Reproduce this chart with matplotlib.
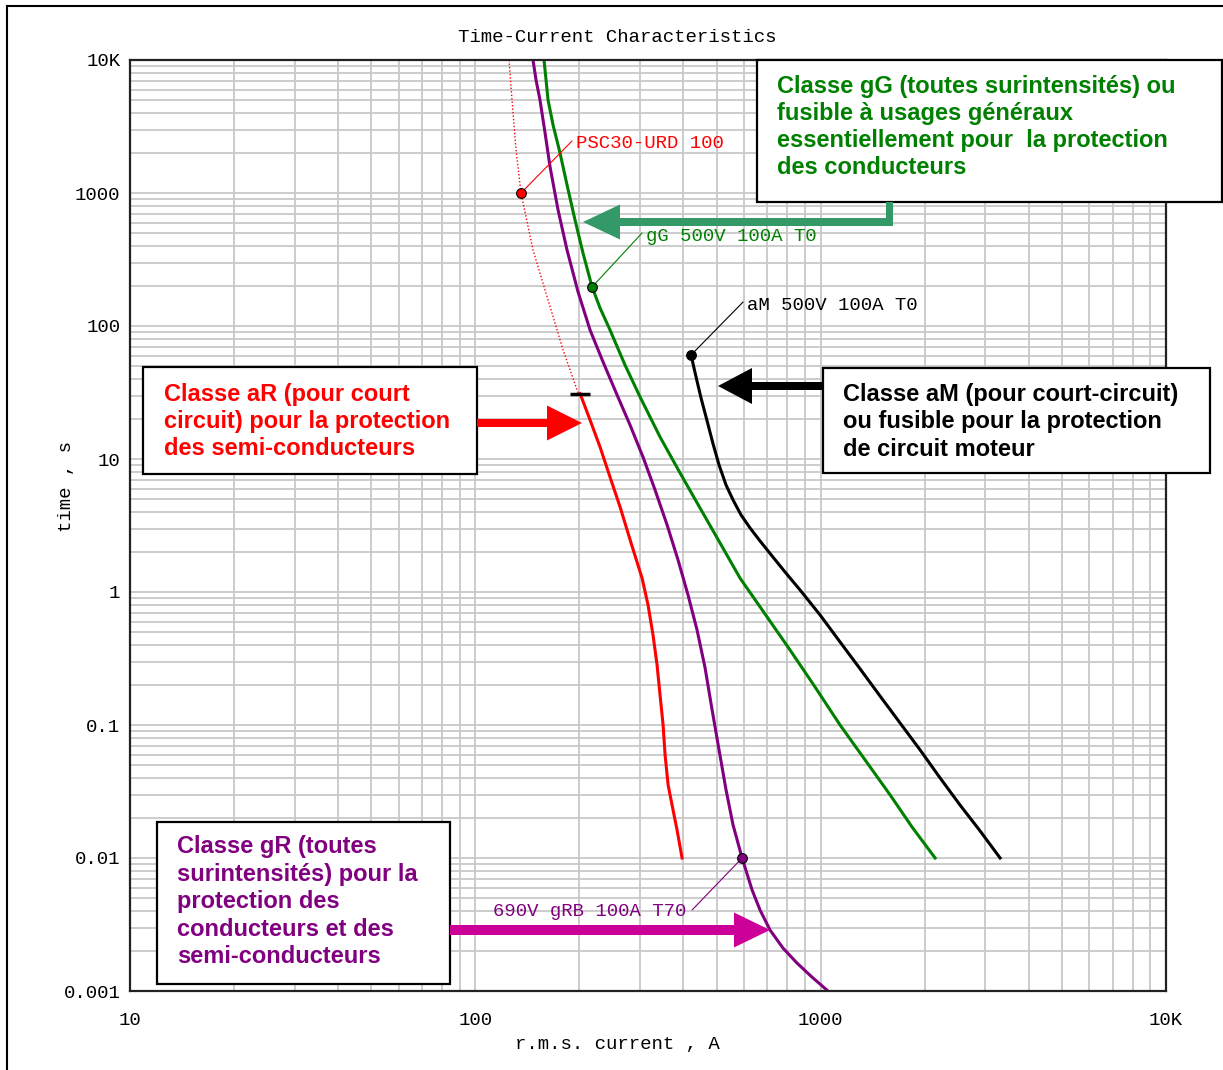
import matplotlib.pyplot as plt
from matplotlib.patches import Rectangle, Polygon
from matplotlib.lines import Line2D
from matplotlib.ticker import LogLocator, FixedLocator, FixedFormatter, NullFormatter

W, H = 1223, 1070

# curves: current in A, time in s
psc_prearc_i = [125.2, 127.7, 131.2, 135.6, 146.9, 162.4, 179.5, 198.4]
psc_prearc_t = [10000, 5000, 2105, 1000, 372.8, 156.9, 66.0, 31.4]
psc_i = [201.1, 214.9, 229.7, 245.5, 262.5, 282.5, 304.0, 316.3, 327.0, 335.9,
         342.7, 349.7, 354.4, 361.6, 371.3, 383.9, 396.9]
psc_t = [31.0, 19.64, 12.3, 7.32, 4.36, 2.335, 1.27, 0.799, 0.475, 0.283,
         0.168, 0.1, 0.0595, 0.0354, 0.025, 0.0162, 0.01]

grb_i = [146.9, 149.9, 153.9, 159.2, 164.6, 173.6, 184.3, 198.4, 214.9, 234.4,
         257.3, 280.6, 305.9, 331.5, 359.2, 386.4, 413.0, 438.6, 462.8, 484.8,
         507.9, 532.1, 557.6, 592.2, 633.0, 667.5, 713.8, 778.1, 854.6, 944.4, 1050]
grb_t = [10000, 7071, 5000, 2826, 1569, 745.1, 372.8, 180.1, 93.3, 53.6,
         30.3, 18.0, 10.35, 5.85, 3.19, 1.74, 0.949, 0.518, 0.268, 0.13,
         0.0649, 0.0325, 0.0177, 0.01, 0.00575, 0.00406, 0.00287, 0.0021, 0.00162, 0.00127, 0.001]

gg_i = [158.1, 162.4, 167.9, 175.9, 184.3, 194.4, 205.0, 217.8, 229.7, 245.5,
        271.3, 299.9, 342.7, 391.6, 447.4, 511.3, 584.3, 690.2, 815.5, 963.4,
        1138, 1345, 1589, 1839, 2145]
gg_t = [10000, 5000, 3246, 1999, 1149, 626.6, 353.9, 196.5, 136.6, 93.3,
        50.9, 29.3, 14.64, 7.85, 4.28, 2.335, 1.27, 0.683, 0.366, 0.193,
        0.1, 0.0546, 0.0298, 0.0171, 0.01]

am_i = [421.4, 435.7, 450.4, 469.0, 488.0, 507.9, 532.1, 557.6, 588.2, 624.6,
        667.5, 723.3, 788.5, 871.7, 996.1, 1138, 1301, 1486, 1698, 1941,
        2217, 2533, 2894, 3308]
am_t = [60.5, 41.35, 28.74, 19.31, 12.97, 9.01, 6.375, 4.917, 3.792, 3.028,
        2.418, 1.865, 1.414, 1.035, 0.672, 0.421, 0.264, 0.165, 0.1035, 0.0649,
        0.04, 0.025, 0.016, 0.01]

# labelled points
psc_mark = (135.6, 1000)
gg_mark = (217.8, 196.5)
am_mark = (421.4, 60.5)
grb_mark = (592.2, 0.01)

x_ticks = [10, 100, 1000, 10000]
x_labels = ["10", "100", "1000", "10K"]
y_ticks = [0.001, 0.01, 0.1, 1, 10, 100, 1000, 10000]
y_labels = ["0.001", "0.01", "0.1", "1", "10", "100", "1000", "10K"]

RED = "#ff0000"
PURPLE = "#800080"
GREEN = "#008000"
MONO = ["Liberation Mono", "DejaVu Sans Mono"]
SANS = ["Liberation Sans", "DejaVu Sans"]
MS = 13.7


def P(x, y):
    return (x / W, 1 - y / H)


fig = plt.figure(figsize=(W / 100, H / 100), dpi=100)
ax = fig.add_axes([130 / W, 1 - 991 / H, (1166 - 130) / W, (991 - 60) / H])
ax.set_xscale("log")
ax.set_yscale("log")
ax.set_xlim(10, 10000)
ax.set_ylim(0.001, 10000)

ax.xaxis.set_major_locator(FixedLocator(x_ticks))
ax.xaxis.set_major_formatter(FixedFormatter(x_labels))
ax.yaxis.set_major_locator(FixedLocator(y_ticks))
ax.yaxis.set_major_formatter(FixedFormatter(y_labels))
ax.xaxis.set_minor_locator(LogLocator(base=10, subs=range(2, 10), numticks=20))
ax.yaxis.set_minor_locator(LogLocator(base=10, subs=range(2, 10), numticks=20))
ax.xaxis.set_minor_formatter(NullFormatter())
ax.yaxis.set_minor_formatter(NullFormatter())
ax.tick_params(which="both", length=0)
ax.tick_params(axis="y", pad=7)
ax.tick_params(axis="x", pad=15)
for lab in ax.get_xticklabels() + ax.get_yticklabels():
    lab.set_fontfamily(MONO)
    lab.set_fontsize(MS)
ax.grid(True, which="both", color="#c8c8c8", lw=1.3)
ax.set_axisbelow(True)
for s in ax.spines.values():
    s.set_linewidth(1.6)
    s.set_color("#222222")

# curves
ax.plot(psc_prearc_i, psc_prearc_t, color=RED, lw=1.0, ls=(0, (1, 1.5)))
ax.plot(psc_i, psc_t, color=RED, lw=2.2)
ax.plot(grb_i, grb_t, color=PURPLE, lw=2.2)
ax.plot(gg_i, gg_t, color=GREEN, lw=2.2)
ax.plot(am_i, am_t, color="black", lw=2.2)
ax.plot(psc_i[0], psc_t[0], marker="_", ms=15, mew=2.5, color="black")

for (pt, col) in [(psc_mark, RED), (gg_mark, GREEN), (am_mark, "black"), (grb_mark, PURPLE)]:
    ax.plot(*pt, marker="o", ms=7, mfc=col, mec="black", mew=0.8, zorder=5)


def leader(pt, line_end, text_pos, text, col, ha="left"):
    ax.annotate("", xy=pt, xytext=line_end, textcoords="offset pixels",
                arrowprops=dict(arrowstyle="-", color=col, lw=0.8, shrinkA=0, shrinkB=0))
    ax.annotate(text, xy=pt, xytext=text_pos, textcoords="offset pixels",
                ha=ha, va="center", color=col, fontsize=MS, family=MONO)


leader(psc_mark, (51, 52), (55, 50), "PSC30-URD 100", RED)
leader(gg_mark, (50, 54), (54, 50), "gG 500V 100A T0", GREEN)
leader(am_mark, (52, 53), (56, 50), "aM 500V 100A T0", "black")
leader(grb_mark, (-50, -52), (-56, -53), "690V gRB 100A T70", PURPLE, ha="right")

# titles
fig.text(*P(617, 37), "Time-Current Characteristics", ha="center", va="center",
         fontsize=MS, family=MONO)
fig.text(*P(617, 1045), "r.m.s. current , A", ha="center", va="center",
         fontsize=MS, family=MONO)
fig.text(*P(67, 486), "time , s", ha="center", va="center", rotation=90,
         fontsize=MS, family=MONO)

# outer frame
fig.add_artist(Line2D([7 / W, 1], [1 - 6 / H, 1 - 6 / H], color="black", lw=1.5))
fig.add_artist(Line2D([7 / W, 7 / W], [0, 1 - 6 / H], color="black", lw=1.5))


def box(x0, y0, x1, y1):
    fig.add_artist(Rectangle(P(x0, y1), (x1 - x0) / W, (y1 - y0) / H,
                             facecolor="white", edgecolor="black", lw=1.6, zorder=3))


def harrow(x0, tip, y, half, head_len, head_half, col):
    d = 1 if tip > x0 else -1
    base = tip - d * head_len
    pts = [(x0, y - half), (base, y - half), (base, y - head_half), (tip, y),
           (base, y + head_half), (base, y + half), (x0, y + half)]
    fig.add_artist(Polygon([P(*p) for p in pts], closed=True, facecolor=col,
                           edgecolor="none", zorder=4))


def box_text(x, baselines, lines, col):
    for yb, t in zip(baselines, lines):
        fig.text(*P(x, yb), t, ha="left", va="baseline", color=col, fontsize=17,
                 fontweight="bold", family=SANS, zorder=5)


# gG box
box(757, 60, 1222, 202)
box_text(777, [93, 120, 147, 174],
         ["Classe gG (toutes surintensités) ou",
          "fusible à usages généraux",
          "essentiellement pour  la protection",
          "des conducteurs"], GREEN)
fig.add_artist(Polygon([P(886, 202), P(893, 202), P(893, 226), P(886, 226)],
                       closed=True, facecolor="#339966", edgecolor="none", zorder=4))
harrow(893, 583, 222, 4, 37, 17.5, "#339966")

# aR box
box(143, 367, 477, 474)
box_text(164, [401, 428, 455],
         ["Classe aR (pour court",
          "circuit) pour la protection",
          "des semi-conducteurs"], RED)
harrow(477, 582, 423, 4, 35, 17.5, RED)

# aM box
box(823, 368, 1210, 473)
box_text(843, [401, 428, 456],
         ["Classe aM (pour court-circuit)",
          "ou fusible pour la protection",
          "de circuit moteur"], "black")
harrow(823, 718, 386, 4, 34, 18, "black")

# gR box
box(157, 822, 450, 984)
box_text(177, [853, 881, 908, 936, 963],
         ["Classe gR (toutes",
          "surintensités) pour la",
          "protection des",
          "conducteurs et des",
          "semi-conducteurs"], PURPLE)
harrow(450, 770, 930, 5, 36, 17.5, "#cc0099")

fig.savefig("out.png", dpi=100)
